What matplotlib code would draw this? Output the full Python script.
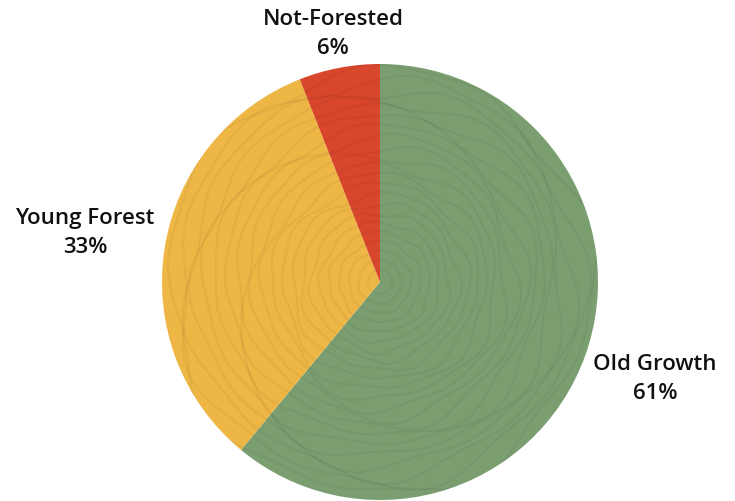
import numpy as np
import matplotlib
matplotlib.use("Agg")
import matplotlib.pyplot as plt

# данные
labels = ["Old Growth", "Young Forest", "Not-Forested"]
shares = [61, 33, 6]
colors = ["#7b9e70", "#eeb645", "#d8472b"]

plt.rcParams['font.family'] = ['Open Sans', 'DejaVu Sans']

fig = plt.figure(figsize=(7.35, 5.02), dpi=100)
ax = fig.add_axes([0, 0, 1, 1])

cx, cy, r = 380, 283, 218
# ось y перевёрнута (пиксельные координаты), поэтому старт -90 и counterclock
# дают сектор сверху и обход по часовой стрелке на картинке
wedges, _ = ax.pie(shares, colors=colors, startangle=-90, counterclock=True,
                   center=(cx, cy), radius=r, frame=True,
                   wedgeprops=dict(linewidth=0))
ax.set_xlim(0, 735)
ax.set_ylim(502, 0)
ax.set_aspect('equal')
ax.axis('off')

# лёгкая "годичная" текстура
rng_r = np.linspace(12, r - 6, 22)
t = np.linspace(0, 2 * np.pi, 400)
for i, rr in enumerate(rng_r):
    wob = 1 + 0.03 * np.sin(5 * t + i) + 0.02 * np.sin(9 * t + 2 * i)
    for w in wedges:
        line, = ax.plot(cx + rr * wob * np.cos(t), cy + rr * wob * np.sin(t),
                        color='black', alpha=0.045, lw=1.6)
        line.set_clip_path(w)

# подписи
label_pos = {"Old Growth": (655, 379), "Young Forest": (85, 233),
             "Not-Forested": (333, 34)}
for name, val in zip(labels, shares):
    x, y = label_pos[name]
    ax.text(x, y, f"{name}\n{val}%", ha='center', va='center',
            fontsize=16, fontweight='semibold', color='#111111',
            linespacing=1.45)

fig.savefig("out.png", dpi=100, facecolor='white')
plt.close(fig)
